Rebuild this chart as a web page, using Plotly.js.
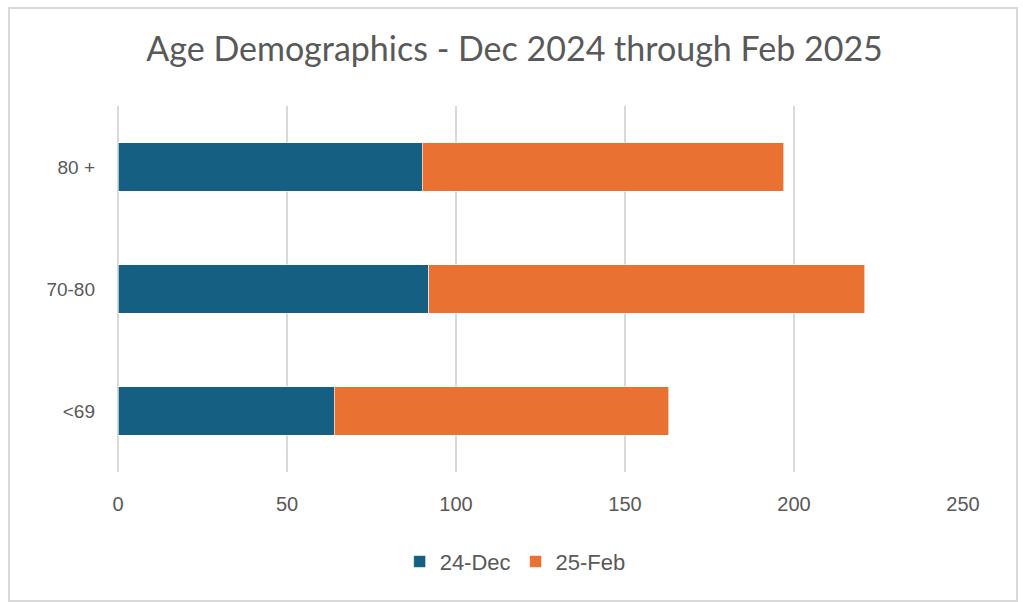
<!DOCTYPE html>
<html>
<head>
<meta charset="utf-8">
<script src="https://cdn.plot.ly/plotly-3.0.1.min.js"></script>
<style>
  html, body { margin: 0; padding: 0; background: #fff; }
  #wrap { position: relative; width: 1023px; height: 602px; }
  #chart { width: 1023px; height: 602px; }
  #frame { position: absolute; left: 8px; top: 7px; width: 1006px; height: 591px; border: 2px solid #d9d9d9; pointer-events: none; }
</style>
</head>
<body>
<div id="wrap">
  <div id="chart"></div>
  <div id="frame"></div>
</div>
<script>
const categories = ["<69", "70-80", "80 +"];
const seriesNames = ["24-Dec", "25-Feb"];
const dec24 = [64, 92, 90];
const feb25 = [99, 129, 107];
const xTicks = [0, 50, 100, 150, 200, 250];

const traces = [
  {
    type: "bar", orientation: "h", name: seriesNames[0],
    y: categories, x: dec24,
    marker: { color: "#156082", line: { color: "rgba(255,255,255,0.6)", width: 1 } },
    hoverinfo: "x+y+name"
  },
  {
    type: "bar", orientation: "h", name: seriesNames[1],
    y: categories, x: feb25,
    marker: { color: "#E97132", line: { color: "rgba(255,255,255,0.6)", width: 1 } },
    hoverinfo: "x+y+name"
  }
];

const layout = {
  width: 1023, height: 602,
  paper_bgcolor: "#ffffff", plot_bgcolor: "#ffffff",
  barmode: "stack",
  bargap: 0.6,
  margin: { l: 118, r: 60, t: 106, b: 130 },
  font: { family: "Liberation Sans, Arial, sans-serif", color: "#595959", size: 20 },
  title: {
    text: "Age Demographics - Dec 2024 through Feb 2025",
    font: { family: "Lato, sans-serif", size: 34, color: "#595959" },
    x: 0.503, xanchor: "center", y: 0.918, yanchor: "middle"
  },
  xaxis: {
    range: [0, 250], tickvals: xTicks, ticktext: xTicks.map(String),
    showgrid: true, gridcolor: "#d9d9d9", gridwidth: 1.5,
    zeroline: true, zerolinecolor: "#d9d9d9", zerolinewidth: 1.5,
    showline: false, ticks: "", ticklen: 0,
    ticklabelstandoff: 18,
    tickfont: { size: 20, color: "#595959" }, fixedrange: true
  },
  yaxis: {
    type: "category", categoryorder: "array", categoryarray: categories,
    showgrid: false, zeroline: false, showline: false, ticks: "",
    ticklabelstandoff: 22,
    tickfont: { size: 19, color: "#595959" }, fixedrange: true
  },
  showlegend: true,
  legend: {
    orientation: "h", x: 0.47, xanchor: "center", y: -0.245, yanchor: "middle",
    font: { size: 22, color: "#595959" }, traceorder: "normal",
    itemwidth: 30
  }
};

Plotly.newPlot("chart", traces, layout, { displayModeBar: false, staticPlot: true });
</script>
</body>
</html>
